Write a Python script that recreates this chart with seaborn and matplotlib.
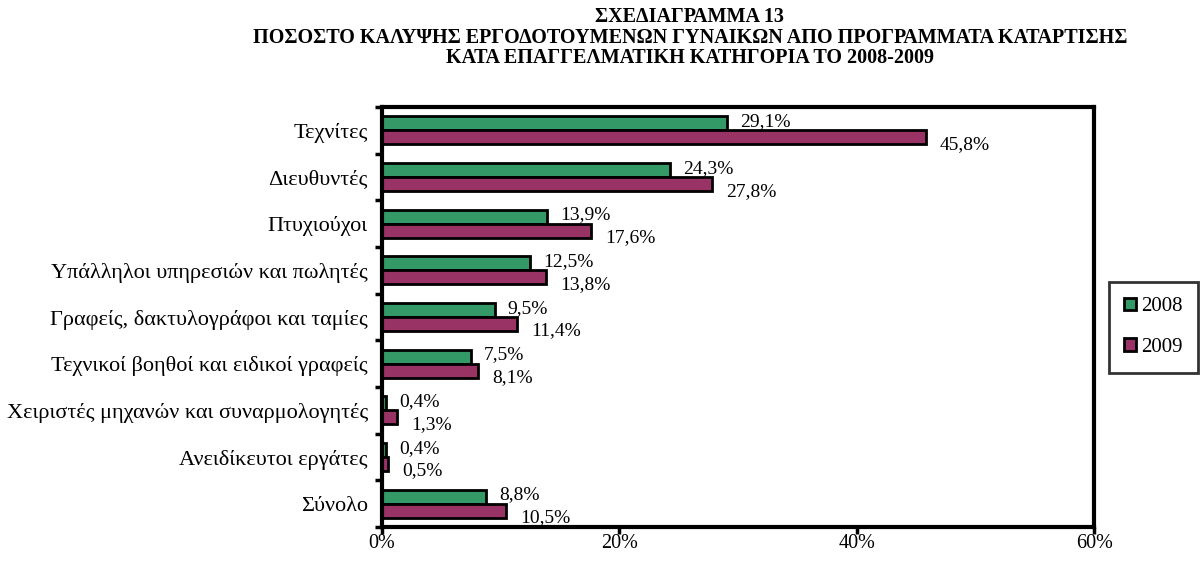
import pandas as pd
import matplotlib.pyplot as plt
import seaborn as sns
import numpy as np

# === Data ===
categories = [
    "Τεχνίτες",
    "Διευθυντές",
    "Πτυχιούχοι",
    "Υπάλληλοι υπηρεσιών και πωλητές",
    "Γραφείς, δακτυλογράφοι και ταμίες",
    "Τεχνικοί βοηθοί και ειδικοί γραφείς",
    "Χειριστές μηχανών και συναρμολογητές",
    "Ανειδίκευτοι εργάτες",
    "Σύνολο",
]
values_2008 = [29.1, 24.3, 13.9, 12.5, 9.5, 7.5, 0.4, 0.4, 8.8]
values_2009 = [45.8, 27.8, 17.6, 13.8, 11.4, 8.1, 1.3, 0.5, 10.5]
years = ["2008", "2009"]
x_ticks = [0, 20, 40, 60]

df = pd.DataFrame({
    "cat": categories * 2,
    "year": [years[0]] * len(categories) + [years[1]] * len(categories),
    "val": values_2008 + values_2009,
})

sns.set_theme(style="white")
plt.rcParams["font.family"] = ["Liberation Serif", "DejaVu Serif"]
plt.rcParams["text.color"] = "black"
plt.rcParams["xtick.color"] = "black"
plt.rcParams["ytick.color"] = "black"

fig = plt.figure(figsize=(12.04, 5.76), dpi=100)
ax = fig.add_axes([0.317, 0.085, 0.592, 0.729])

palette = {"2008": "#339966", "2009": "#993366"}
sns.barplot(data=df, y="cat", x="val", hue="year", order=categories,
            hue_order=years, palette=palette, orient="h", width=0.6,
            edgecolor="black", linewidth=2, saturation=1, ax=ax)

# value labels: 2008 next to its bar, 2009 a little below its bar
for container, dx, dy in zip(ax.containers, (1.1, 1.2), (-0.04, 0.15)):
    for bar in container:
        w = bar.get_width()
        yc = bar.get_y() + bar.get_height() / 2
        ax.text(w + dx, yc + dy, f"{w:.1f}%".replace(".", ","),
                va="center", ha="left", fontsize=14, color="black")

ax.set_xlim(0, 60)
ax.set_ylim(len(categories) - 0.5, -0.5)
ax.set_xticks(x_ticks)
ax.set_xticklabels([f"{t}%" for t in x_ticks], fontsize=14.5)
ax.set_yticks(range(len(categories)))
ax.set_yticklabels(categories, fontsize=16)
ax.set_yticks(np.arange(-0.5, len(categories), 1), minor=True)
ax.tick_params(axis="y", which="major", left=True, length=0, pad=10)
ax.tick_params(axis="y", which="minor", left=True, length=5, width=2.5, direction="out")
ax.tick_params(axis="x", which="major", bottom=True, length=5, width=2.5, direction="out", pad=0)
ax.set_xlabel("")
ax.set_ylabel("")
for s in ax.spines.values():
    s.set_visible(True)
    s.set_color("black")
    s.set_linewidth(3)

leg = ax.legend(loc="center left", bbox_to_anchor=(1.02, 0.476), frameon=True,
                fontsize=15, handlelength=0.55, handleheight=0.55,
                handletextpad=0.25, labelspacing=1.05, borderpad=0.75,
                borderaxespad=0, fancybox=False)
leg.get_frame().set_edgecolor("black")
leg.get_frame().set_linewidth(2)
leg.set_title(None)

fig.text(0.573, 0.988,
         "ΣΧΕΔΙΑΓΡΑΜΜΑ 13\n"
         "ΠΟΣΟΣΤΟ ΚΑΛΥΨΗΣ ΕΡΓΟΔΟΤΟΥΜΕΝΩΝ ΓΥΝΑΙΚΩΝ ΑΠΟ ΠΡΟΓΡΑΜΜΑΤΑ ΚΑΤΑΡΤΙΣΗΣ\n"
         "ΚΑΤΑ ΕΠΑΓΓΕΛΜΑΤΙΚΗ ΚΑΤΗΓΟΡΙΑ ΤΟ 2008-2009",
         ha="center", va="top", fontsize=14.5, fontweight="bold", linespacing=1.05)

fig.savefig("out.png", dpi=100)
